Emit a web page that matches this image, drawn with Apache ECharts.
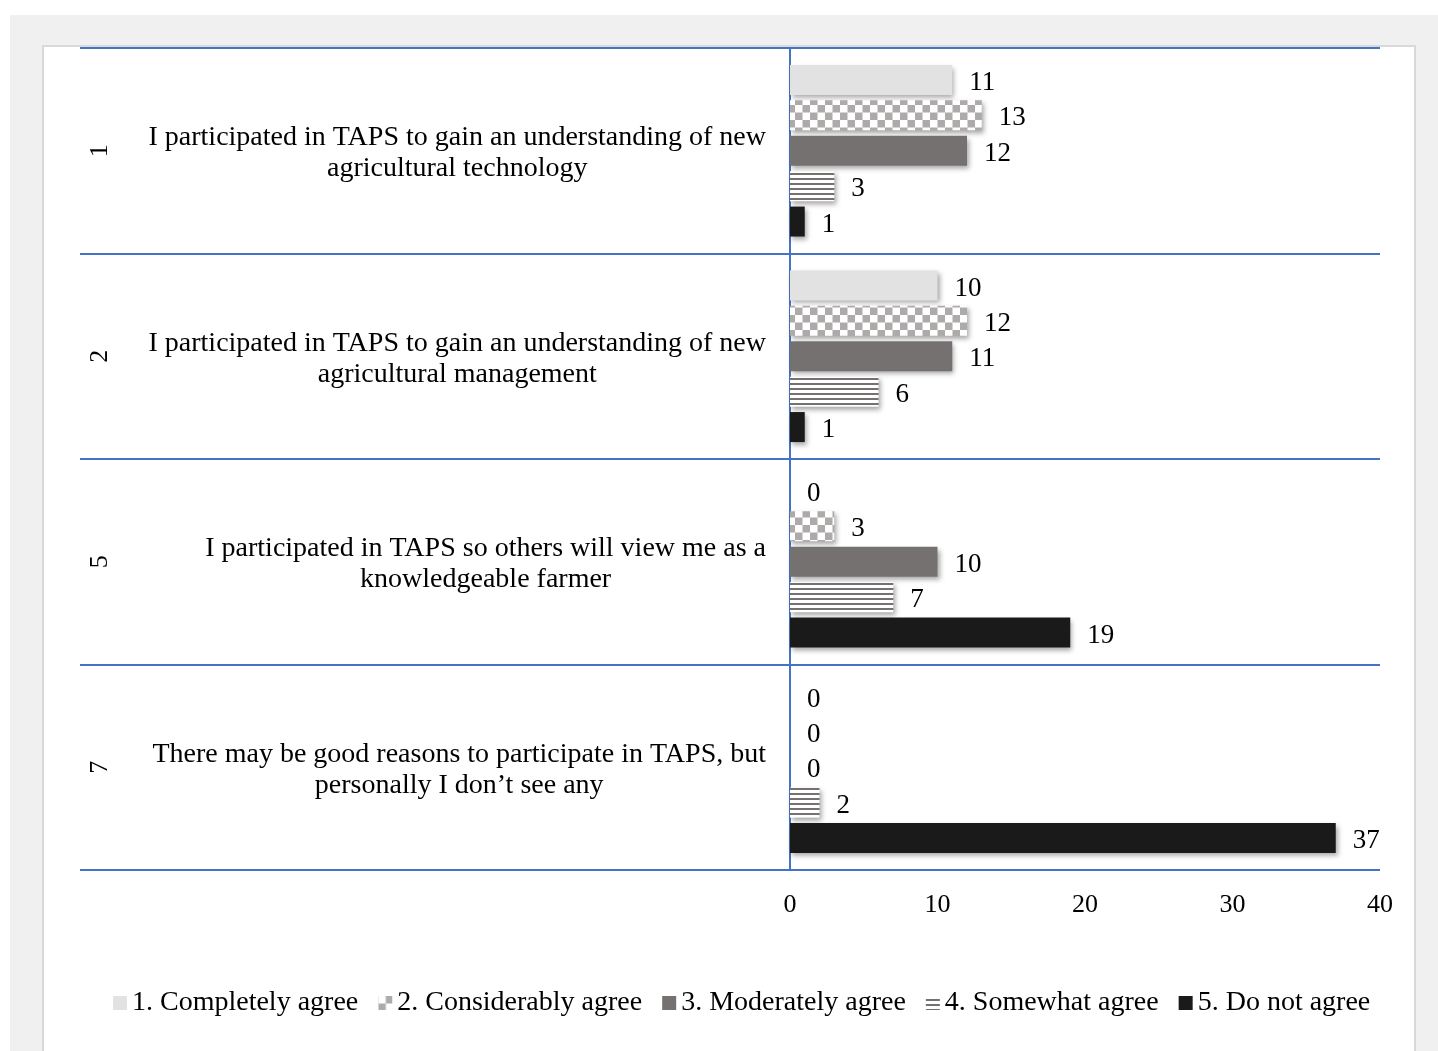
<!DOCTYPE html>
<html>
<head>
<meta charset="utf-8">
<script src="https://cdn.jsdelivr.net/npm/echarts@6/dist/echarts.min.js"></script>
<style>
  html, body { margin: 0; padding: 0; background: #ffffff; }
  #frame { position: absolute; left: 10px; top: 15px; width: 1428px; height: 1036px; background: #f0f0f0; }
  #panel { position: absolute; left: 42px; top: 45px; width: 1370px; height: 1010px; background: #ffffff; border: 2px solid #d9d9d9; }
  #chart { position: absolute; left: 0; top: 0; width: 1438px; height: 1051px; }
</style>
</head>
<body>
<div id="frame"></div>
<div id="panel"></div>
<div id="chart"></div>
<script>
// ---- data ----
const itemNumbers = ['1', '2', '5', '7'];
const itemTexts = [
  'I participated in TAPS to gain an understanding of new\nagricultural technology',
  'I participated in TAPS to gain an understanding of new\nagricultural management',
  'I participated in TAPS so others will view me as a\nknowledgeable farmer',
  'There may be good reasons to participate in TAPS, but\npersonally I don\u2019t see any'
];
const seriesNames = ['1. Completely agree', '2. Considerably agree', '3. Moderately agree', '4. Somewhat agree', '5. Do not agree'];
const completelyAgree   = [11, 10, 0, 0];
const considerablyAgree = [13, 12, 3, 0];
const moderatelyAgree   = [12, 11, 10, 0];
const somewhatAgree     = [3, 6, 7, 2];
const doNotAgree        = [1, 1, 19, 37];
const xTicks = [0, 10, 20, 30, 40];

// ---- patterns ----
function checker() {
  const c = document.createElement('canvas');
  c.width = 15; c.height = 15;
  const g = c.getContext('2d');
  g.fillStyle = '#ffffff'; g.fillRect(0, 0, 15, 15);
  g.fillStyle = '#aeaaaa';
  g.fillRect(7.5, 0, 7.5, 7.5); g.fillRect(0, 7.5, 7.5, 7.5);
  return { image: c, repeat: 'repeat' };
}
function stripes() {
  const c = document.createElement('canvas');
  c.width = 8; c.height = 5;
  const g = c.getContext('2d');
  g.fillStyle = '#ffffff'; g.fillRect(0, 0, 8, 5);
  g.fillStyle = '#767171'; g.fillRect(0, 3, 8, 2);
  return { image: c, repeat: 'repeat' };
}

const FONT = '"Liberation Serif", "Times New Roman", serif';
const fills = ['#e2e2e2', checker(), '#767171', stripes(), '#1a1a1a'];
const values = [completelyAgree, considerablyAgree, moderatelyAgree, somewhatAgree, doNotAgree];

const chart = echarts.init(document.getElementById('chart'), null, { renderer: 'canvas' });

const series = values.map((vals, i) => ({
  name: seriesNames[i],
  type: 'bar',
  yAxisIndex: 0,
  data: vals,
  barWidth: 30,
  barGap: '18%',
  itemStyle: {
    color: fills[i],
    shadowBlur: 5,
    shadowColor: 'rgba(0,0,0,0.35)',
    shadowOffsetX: 2,
    shadowOffsetY: 3
  },
  label: {
    show: true,
    position: 'right',
    distance: 17,
    offset: [0, 3],
    color: '#000',
    fontFamily: FONT,
    fontSize: 27
  }
}));

chart.setOption({
  backgroundColor: 'transparent',
  animation: false,
  textStyle: { fontFamily: FONT },
  grid: { left: 790, right: 58, top: 48, bottom: 181, containLabel: false },
  legend: {
    bottom: 29,
    left: 108,
    itemWidth: 14,
    itemHeight: 14,
    itemGap: 20,
    icon: 'rect',
    textStyle: { fontFamily: FONT, fontSize: 28, color: '#000' },
    data: seriesNames
  },
  xAxis: {
    type: 'value',
    min: xTicks[0],
    max: xTicks[xTicks.length - 1],
    interval: xTicks[1] - xTicks[0],
    axisLine: { show: false },
    axisTick: { show: false },
    splitLine: { show: false },
    axisLabel: { color: '#000', fontFamily: FONT, fontSize: 26, margin: 22 }
  },
  yAxis: [
    {
      type: 'category',
      data: itemTexts,
      inverse: true,
      axisLine: { show: true, lineStyle: { color: '#4472c4', width: 2 } },
      axisTick: { show: true, length: 710, lineStyle: { color: '#4472c4', width: 2 } },
      splitLine: { show: true, lineStyle: { color: '#4472c4', width: 2 } },
      axisLabel: {
        margin: 24,
        color: '#000',
        formatter: v => v.split('\n').map(s => '{t|' + s + '}').join('\n'),
        rich: { t: { align: 'center', fontFamily: FONT, fontSize: 28, lineHeight: 31, color: '#000', padding: [5, 0, 0, 0] } }
      }
    },
    {
      type: 'category',
      data: itemNumbers,
      inverse: true,
      position: 'left',
      axisLine: { show: false },
      axisTick: { show: false },
      splitLine: { show: false },
      axisLabel: { rotate: 90, margin: 677, color: '#000', fontFamily: FONT, fontSize: 26 }
    }
  ],
  series: series
});
</script>
</body>
</html>
